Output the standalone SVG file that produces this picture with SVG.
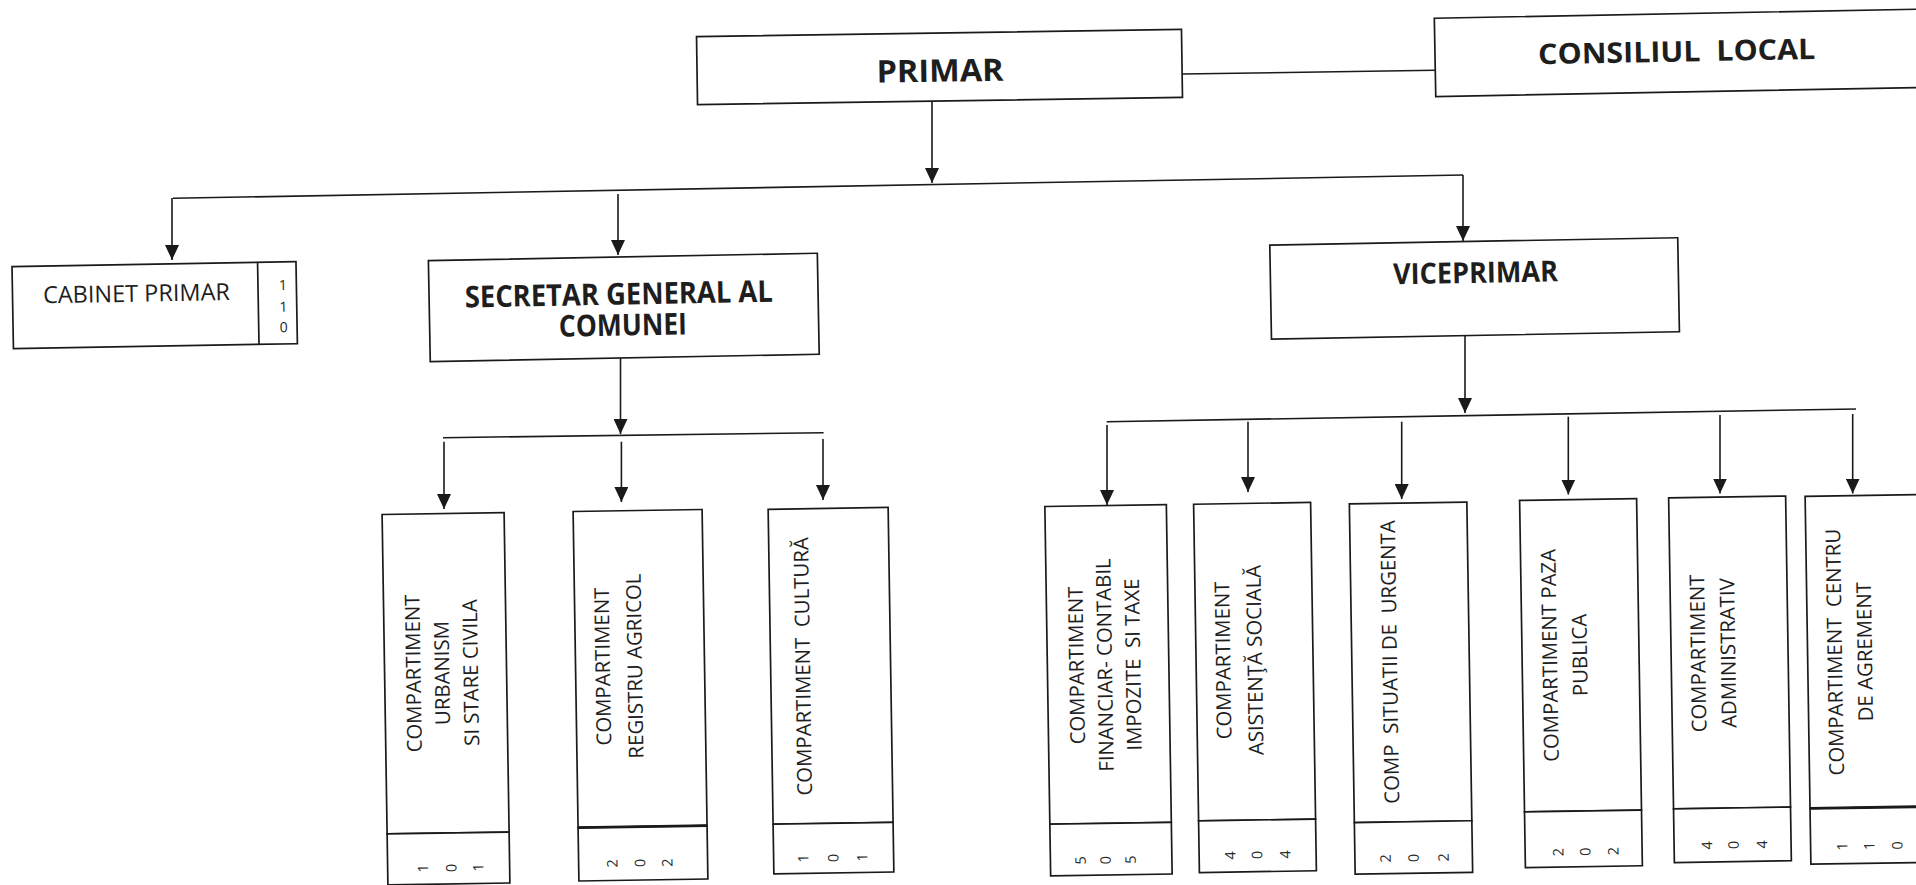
<svg xmlns="http://www.w3.org/2000/svg" width="1916" height="885" viewBox="0 0 1916 885">
<defs>
<style>
.bx{fill:#fff;stroke:#1a1a1a;stroke-width:1.7}
.dv{stroke:#1a1a1a;stroke-width:1.7;fill:none}
.dvt{stroke:#1a1a1a;stroke-width:2.8;fill:none}
.ln{stroke:#1a1a1a;stroke-width:1.6;fill:none}
.ar{stroke:#1a1a1a;stroke-width:1.6;fill:none;marker-end:url(#arr)}
.tt{font-family:"Open Sans","Liberation Sans",sans-serif;font-weight:700;fill:#1e1e1e;text-anchor:middle;white-space:pre}
.tr{font-family:"Open Sans","Liberation Sans",sans-serif;font-weight:400;fill:#1e1e1e;text-anchor:middle;white-space:pre}
.rv{font-family:"Open Sans","Liberation Sans",sans-serif;font-weight:400;font-size:20.4px;fill:#1e1e1e;text-anchor:middle;white-space:pre}
.dg{font-family:"Open Sans","Liberation Sans",sans-serif;font-weight:400;font-size:14.5px;fill:#2a2a2a;text-anchor:middle;dominant-baseline:central}
</style>
<marker id="arr" markerUnits="userSpaceOnUse" markerWidth="15" markerHeight="14" refX="15" refY="7" orient="auto">
<path d="M0,0 L15,7 L0,14 z" fill="#1a1a1a"/>
</marker>
</defs>
<rect x="0" y="0" width="1916" height="885" fill="#fff"/>

<g id="connectors">
<line class="ln" x1="1182" y1="74" x2="1435" y2="70.3"/>
<line class="ar" x1="932" y1="101" x2="932" y2="183"/>
<line class="ln" x1="173" y1="198.3" x2="1463" y2="175"/>
<line class="ar" x1="172" y1="198" x2="172" y2="260"/>
<line class="ar" x1="618" y1="194" x2="618" y2="255"/>
<line class="ar" x1="1463" y1="175" x2="1463" y2="241"/>
<line class="ar" x1="620.5" y1="356" x2="620.5" y2="434"/>
<line class="ln" x1="443" y1="437.7" x2="823.6" y2="432.7"/>
<line class="ar" x1="444" y1="441.7" x2="444" y2="509"/>
<line class="ar" x1="621.4" y1="441.7" x2="621.4" y2="502"/>
<line class="ar" x1="823" y1="439" x2="823" y2="500"/>
<line class="ar" x1="1465" y1="334" x2="1465" y2="413"/>
<line class="ln" x1="1106.7" y1="421.7" x2="1856" y2="409"/>
<line class="ar" x1="1107" y1="425" x2="1107" y2="505"/>
<line class="ar" x1="1248" y1="421.7" x2="1248" y2="492"/>
<line class="ar" x1="1401.7" y1="421.7" x2="1401.7" y2="499"/>
<line class="ar" x1="1568.3" y1="416.7" x2="1568.3" y2="494.5"/>
<line class="ar" x1="1720" y1="415" x2="1720" y2="493.5"/>
<line class="ar" x1="1852.7" y1="414" x2="1852.7" y2="493.5"/>
</g>

<g id="primar" transform="rotate(-0.85 939.5 67)">
<rect class="bx" x="697" y="33" width="485" height="68"/>
<text class="tt" x="940" y="81.7" font-size="31" textLength="127" lengthAdjust="spacingAndGlyphs">PRIMAR</text>
</g>

<g id="consiliul-local" transform="rotate(-1.07 1682.5 52.8)">
<rect class="bx" x="1435" y="13.6" width="495" height="78.4"/>
<text class="tt" x="1676.7" y="61.5" font-size="28.5" textLength="277" lengthAdjust="spacingAndGlyphs" xml:space="preserve">CONSILIUL  LOCAL</text>
</g>

<g id="cabinet-primar" transform="rotate(-1 154.7 305.2)">
<rect class="bx" x="12.7" y="264.2" width="284" height="82"/>
<line class="dv" x1="258.3" y1="264.2" x2="258.3" y2="346.2"/>
<text class="tr" x="136.7" y="301.4" font-size="23.5" textLength="187" lengthAdjust="spacingAndGlyphs">CABINET PRIMAR</text>
<text class="tr" x="283.3" y="292.2" font-size="14">1</text>
<text class="tr" x="283.3" y="313.9" font-size="14">1</text>
<text class="tr" x="283.3" y="334.4" font-size="14">0</text>
</g>

<g id="secretar-general" transform="rotate(-1.08 623.7 307.4)">
<rect class="bx" x="429.3" y="256.9" width="389" height="101"/>
<text class="tt" x="619" y="304.5" font-size="30" textLength="308" lengthAdjust="spacingAndGlyphs">SECRETAR GENERAL AL</text>
<text class="tt" x="622.5" y="335.5" font-size="30" textLength="128" lengthAdjust="spacingAndGlyphs">COMUNEI</text>
</g>

<g id="viceprimar" transform="rotate(-1.03 1474.6 288.4)">
<rect class="bx" x="1270.6" y="241.4" width="408" height="94"/>
<text class="tt" x="1475.8" y="282.8" font-size="29" textLength="165" lengthAdjust="spacingAndGlyphs">VICEPRIMAR</text>
</g>

<g id="comp-urbanism" transform="rotate(-0.9 446 698.75)">
<rect class="bx" x="385" y="513.5" width="122" height="319.5"/>
<rect class="bx" x="385" y="833" width="122" height="51"/>
<text class="rv" transform="translate(421 673) rotate(-90)"><tspan x="0" y="0">COMPARTIMENT</tspan><tspan x="0" dy="28.7">URBANISM</tspan><tspan x="0" dy="28.7">SI STARE CIVILA</tspan></text>
<text class="dg" transform="translate(420 868) rotate(-90)">1</text>
<text class="dg" transform="translate(448.4 868) rotate(-90)">0</text>
<text class="dg" transform="translate(475.4 868) rotate(-90)">1</text>
</g>

<g id="comp-registru-agricol" transform="rotate(-0.9 640.5 695.25)">
<rect class="bx" x="576" y="510.5" width="129" height="316.2"/>
<rect class="bx" x="576" y="826.7" width="129" height="53.3"/>
<line class="dvt" x1="576" y1="826.7" x2="705" y2="826.7"/>
<text class="rv" transform="translate(610.4 666) rotate(-90)"><tspan x="0" y="0">COMPARTIMENT</tspan><tspan x="0" dy="32">REGISTRU AGRICOL</tspan></text>
<text class="dg" transform="translate(609.4 863) rotate(-90)">2</text>
<text class="dg" transform="translate(637 863) rotate(-90)">0</text>
<text class="dg" transform="translate(664.4 863) rotate(-90)">2</text>
</g>

<g id="comp-cultura" transform="rotate(-0.9 831 690.7)">
<rect class="bx" x="771" y="508.4" width="120" height="314.9"/>
<rect class="bx" x="771" y="823.3" width="120" height="49.7"/>
<text class="rv" transform="translate(810.4 666) rotate(-90)" xml:space="preserve">COMPARTIMENT  CULTURĂ</text>
<text class="dg" transform="translate(800.4 858) rotate(-90)">1</text>
<text class="dg" transform="translate(830.4 858) rotate(-90)">0</text>
<text class="dg" transform="translate(859.4 858) rotate(-90)">1</text>
</g>

<g id="comp-financiar-contabil" transform="rotate(-0.9 1108.5 690.25)">
<rect class="bx" x="1047.75" y="505.5" width="121.5" height="317.8"/>
<rect class="bx" x="1047.75" y="823.3" width="121.5" height="51.7"/>
<text class="rv" transform="translate(1084.1 665) rotate(-90)" xml:space="preserve"><tspan x="0" y="0">COMPARTIMENT</tspan><tspan x="0" dy="28.3">FINANCIAR- CONTABIL</tspan><tspan x="0" dy="28.3">IMPOZITE  SI TAXE</tspan></text>
<text class="dg" transform="translate(1077.4 860) rotate(-90)">5</text>
<text class="dg" transform="translate(1102.4 860) rotate(-90)">0</text>
<text class="dg" transform="translate(1127.4 860) rotate(-90)">5</text>
</g>

<g id="comp-asistenta-sociala" transform="rotate(-0.9 1255 687.5)">
<rect class="bx" x="1196.5" y="503.3" width="117" height="316.7"/>
<rect class="bx" x="1196.5" y="820" width="117" height="51.7"/>
<text class="rv" transform="translate(1230.7 660) rotate(-90)"><tspan x="0" y="0">COMPARTIMENT</tspan><tspan x="0" dy="31.7">ASISTENŢĂ SOCIALĂ</tspan></text>
<text class="dg" transform="translate(1227.4 855) rotate(-90)">4</text>
<text class="dg" transform="translate(1254.1 855) rotate(-90)">0</text>
<text class="dg" transform="translate(1282.4 855) rotate(-90)">4</text>
</g>

<g id="comp-situatii-urgenta" transform="rotate(-0.9 1411 688.15)">
<rect class="bx" x="1352.25" y="503" width="117.5" height="318.7"/>
<rect class="bx" x="1352.25" y="821.7" width="117.5" height="51.6"/>
<text class="rv" transform="translate(1397.4 661.7) rotate(-90)" xml:space="preserve">COMP  SITUATII DE  URGENTA</text>
<text class="dg" transform="translate(1382.4 858) rotate(-90)">2</text>
<text class="dg" transform="translate(1410.4 858) rotate(-90)">0</text>
<text class="dg" transform="translate(1440.4 858) rotate(-90)">2</text>
</g>

<g id="comp-paza-publica" transform="rotate(-0.9 1581 683.1)">
<rect class="bx" x="1522.5" y="499.5" width="117" height="311.5"/>
<rect class="bx" x="1522.5" y="811" width="117" height="55.7"/>
<text class="rv" transform="translate(1557.4 655) rotate(-90)"><tspan x="0" y="0">COMPARTIMENT PAZA</tspan><tspan x="0" dy="30">PUBLICA</tspan></text>
<text class="dg" transform="translate(1555.4 851.7) rotate(-90)">2</text>
<text class="dg" transform="translate(1582.4 851.7) rotate(-90)">0</text>
<text class="dg" transform="translate(1610.4 851.7) rotate(-90)">2</text>
</g>

<g id="comp-administrativ" transform="rotate(-0.9 1730 679.35)">
<rect class="bx" x="1671.5" y="497" width="117" height="311"/>
<rect class="bx" x="1671.5" y="808" width="117" height="53.7"/>
<text class="rv" transform="translate(1705.7 653) rotate(-90)"><tspan x="0" y="0">COMPARTIMENT</tspan><tspan x="0" dy="30">ADMINISTRATIV</tspan></text>
<text class="dg" transform="translate(1704.1 845) rotate(-90)">4</text>
<text class="dg" transform="translate(1730.7 845) rotate(-90)">0</text>
<text class="dg" transform="translate(1759.1 845) rotate(-90)">4</text>
</g>

<g id="comp-centru-agrement" transform="rotate(-0.9 1866.5 679.4)">
<rect class="bx" x="1808" y="495.5" width="117" height="312"/>
<rect class="bx" x="1808" y="807.5" width="117" height="55.8"/>
<line class="dvt" x1="1808" y1="807.5" x2="1925" y2="807.5"/>
<text class="rv" transform="translate(1842.4 651.7) rotate(-90)" xml:space="preserve"><tspan x="0" y="0">COMPARTIMENT  CENTRU</tspan><tspan x="0" dy="30">DE AGREMENT</tspan></text>
<text class="dg" transform="translate(1839.4 846) rotate(-90)">1</text>
<text class="dg" transform="translate(1866.4 846) rotate(-90)">1</text>
<text class="dg" transform="translate(1894.4 846) rotate(-90)">0</text>
</g>
</svg>
